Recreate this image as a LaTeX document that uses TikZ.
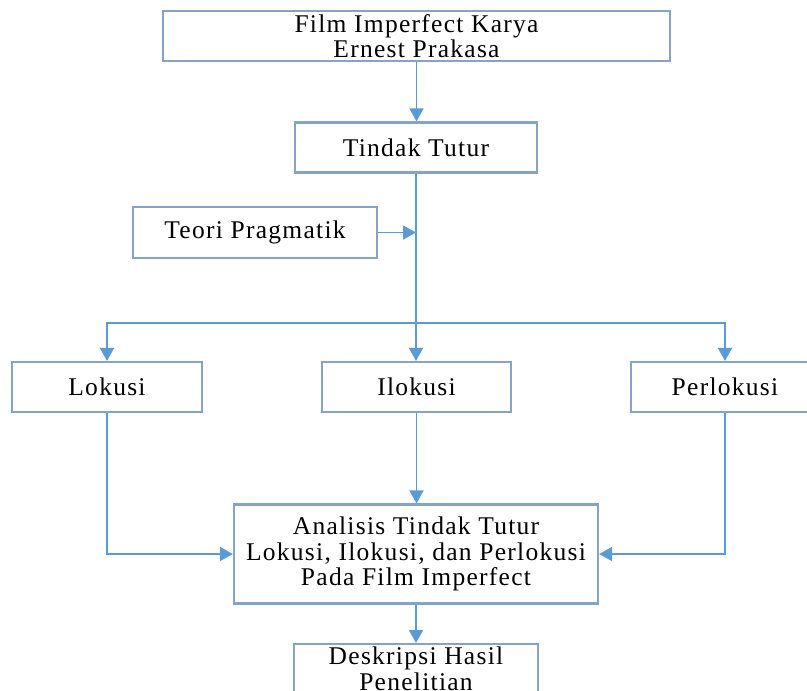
\documentclass[tikz,border=0pt]{standalone}
\usepackage{fontspec}
\setmainfont{Liberation Serif}
\newfontfamily\boxfont[LetterSpace=5]{Liberation Serif}
\usetikzlibrary{arrows.meta}
\definecolor{linec}{HTML}{5B9BD5}
\definecolor{boxc}{HTML}{87A3C4}
\tikzset{
  box/.style={draw=boxc, line width=2.2pt, rectangle, inner sep=0pt, align=center,
    font=\boxfont\fontsize{25.5}{25.5}\selectfont, text=black},
  conn/.style={draw=linec, line width=1.8pt, -{Triangle[width=14pt,length=13pt]}},
  plain/.style={draw=linec, line width=1.8pt}
}
\begin{document}
\begin{tikzpicture}[x=1pt,y=-1pt]
\useasboundingbox (0,0) rectangle (807,691);
\clip (0,0) rectangle (807,691);
\fill[white] (0,0) rectangle (807,691);
\node[box, minimum width=507pt, minimum height=50pt] (film) at (416.5,36) {Film Imperfect Karya\\Ernest Prakasa};
\node[box, minimum width=242pt, minimum height=50pt] (tindak) at (416,147.5) {Tindak Tutur};
\node[box, minimum width=244pt, minimum height=51pt] (teori) at (255,232.5) {Teori Pragmatik};
\node[box, minimum width=190pt, minimum height=50pt] (lok) at (107,387) {Lokusi};
\node[box, minimum width=189pt, minimum height=50pt] (ilo) at (416.5,387) {Ilokusi};
\node[box, minimum width=188pt, minimum height=50pt] (per) at (725,387) {Perlokusi};
\node[box, minimum width=364pt, minimum height=99pt] (ana) at (416,554) {Analisis Tindak Tutur\\Lokusi, Ilokusi, dan Perlokusi\\Pada Film Imperfect};
\node[box, minimum width=244pt, inner ysep=3pt, anchor=north] (des) at (416,643) {Deskripsi Hasil\\Penelitian\\[6pt]};
\coordinate (tj) at (416,232.5);
\coordinate (hj) at (416,323);
\draw[conn] (film.south) -- (film.south |- tindak.north);
\draw[conn] (tindak.south) -- (tindak.south |- ilo.north);
\draw[conn] (teori.east) -- (tj);
\draw[conn] (hj) -| (lok.north);
\draw[conn] (hj) -| (per.north);
\draw[conn] (lok.south) |- (ana.west);
\draw[conn] (per.south) |- (ana.east);
\draw[conn] (ilo.south) -- (ilo.south |- ana.north);
\draw[conn] (ana.south) -- (ana.south |- des.north);
\end{tikzpicture}
\end{document}
